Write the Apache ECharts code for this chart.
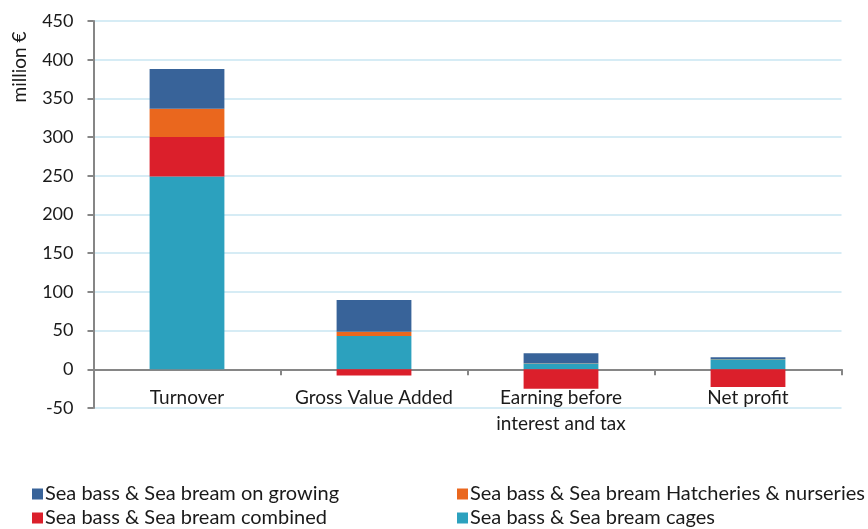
<!DOCTYPE html>
<html>
<head>
<meta charset="utf-8">
<script src="https://cdn.jsdelivr.net/npm/echarts@6/dist/echarts.min.js"></script>
<style>
  html, body { margin: 0; padding: 0; background: #fff; }
  #chart { width: 868px; height: 529px; }
</style>
</head>
<body>
<div id="chart"></div>
<script>
// categories and stacked values (million €)
const categories = ['Turnover', 'Gross Value Added', 'Earning before\ninterest and tax', 'Net profit']
const cages = [249, 43, 7.5, 13]
const combined = [51, -8, -25, -23]
const hatcheries = [36.5, 5.5, 0.3, 0.2]
const onGrowing = [51.5, 41, 13, 2.5]

const FONT = 'Lato, "Liberation Sans", sans-serif'

const chart = echarts.init(document.getElementById('chart'))

const names = {
  onGrowing: 'Sea bass & Sea bream on growing',
  hatcheries: 'Sea bass & Sea bream Hatcheries & nurseries',
  combined: 'Sea bass & Sea bream combined',
  cages: 'Sea bass & Sea bream cages'
}

function bar(name, data, color) {
  return {
    name: name,
    type: 'bar',
    stack: 'total',
    data: data,
    barWidth: '40%',
    itemStyle: { color: color },
    emphasis: { disabled: true }
  }
}

// one legend per item so the two columns line up like the original
function legendItem(name, left, top) {
  return {
    left: left,
    top: top,
    data: [name],
    itemWidth: 11,
    itemHeight: 11,
    icon: 'rect',
    selectedMode: false,
    padding: 0,
    textStyle: { fontFamily: FONT, fontSize: 20, color: '#1a1a1a', padding: [0, 0, 0, -3] }
  }
}

const gridTop = 21
const gridBottom = 121
const plotH = 529 - gridTop - gridBottom
const zeroOffset = -plotH * 50 / 500

chart.setOption({
  animation: false,
  grid: { left: 93.5, right: 26.5, top: gridTop, bottom: gridBottom },
  graphic: [{
    type: 'text',
    x: 20,
    y: 67,
    rotation: Math.PI / 2,
    style: {
      text: 'million €',
      fontFamily: FONT,
      fontSize: 19,
      fill: '#1a1a1a',
      align: 'center',
      verticalAlign: 'middle'
    }
  }],
  legend: [
    legendItem(names.onGrowing, 32, 484),
    legendItem(names.combined, 32, 508),
    legendItem(names.hatcheries, 457, 484),
    legendItem(names.cages, 457, 508)
  ],
  xAxis: {
    type: 'category',
    data: categories,
    offset: zeroOffset,
    axisLine: { onZero: false, lineStyle: { color: '#868686', width: 2 } },
    axisTick: { show: true, length: 6, lineStyle: { color: '#868686', width: 2 } },
    axisLabel: {
      interval: 0,
      margin: 16,
      fontFamily: FONT,
      fontSize: 19,
      lineHeight: 26,
      color: '#1a1a1a'
    }
  },
  yAxis: {
    type: 'value',
    min: -50,
    max: 450,
    interval: 50,
    axisLine: { show: true, lineStyle: { color: '#868686', width: 2 } },
    axisTick: { show: true, length: 6, lineStyle: { color: '#868686', width: 2 } },
    axisLabel: {
      margin: 20,
      fontFamily: FONT,
      fontSize: 18,
      color: '#1a1a1a'
    },
    splitLine: { lineStyle: { color: '#d6ecf5', width: 2 } }
  },
  series: [
    bar(names.cages, cages, '#2ca1be'),
    bar(names.combined, combined, '#db1f2b'),
    bar(names.hatcheries, hatcheries, '#ea671e'),
    bar(names.onGrowing, onGrowing, '#386399')
  ]
})
</script>
</body>
</html>
